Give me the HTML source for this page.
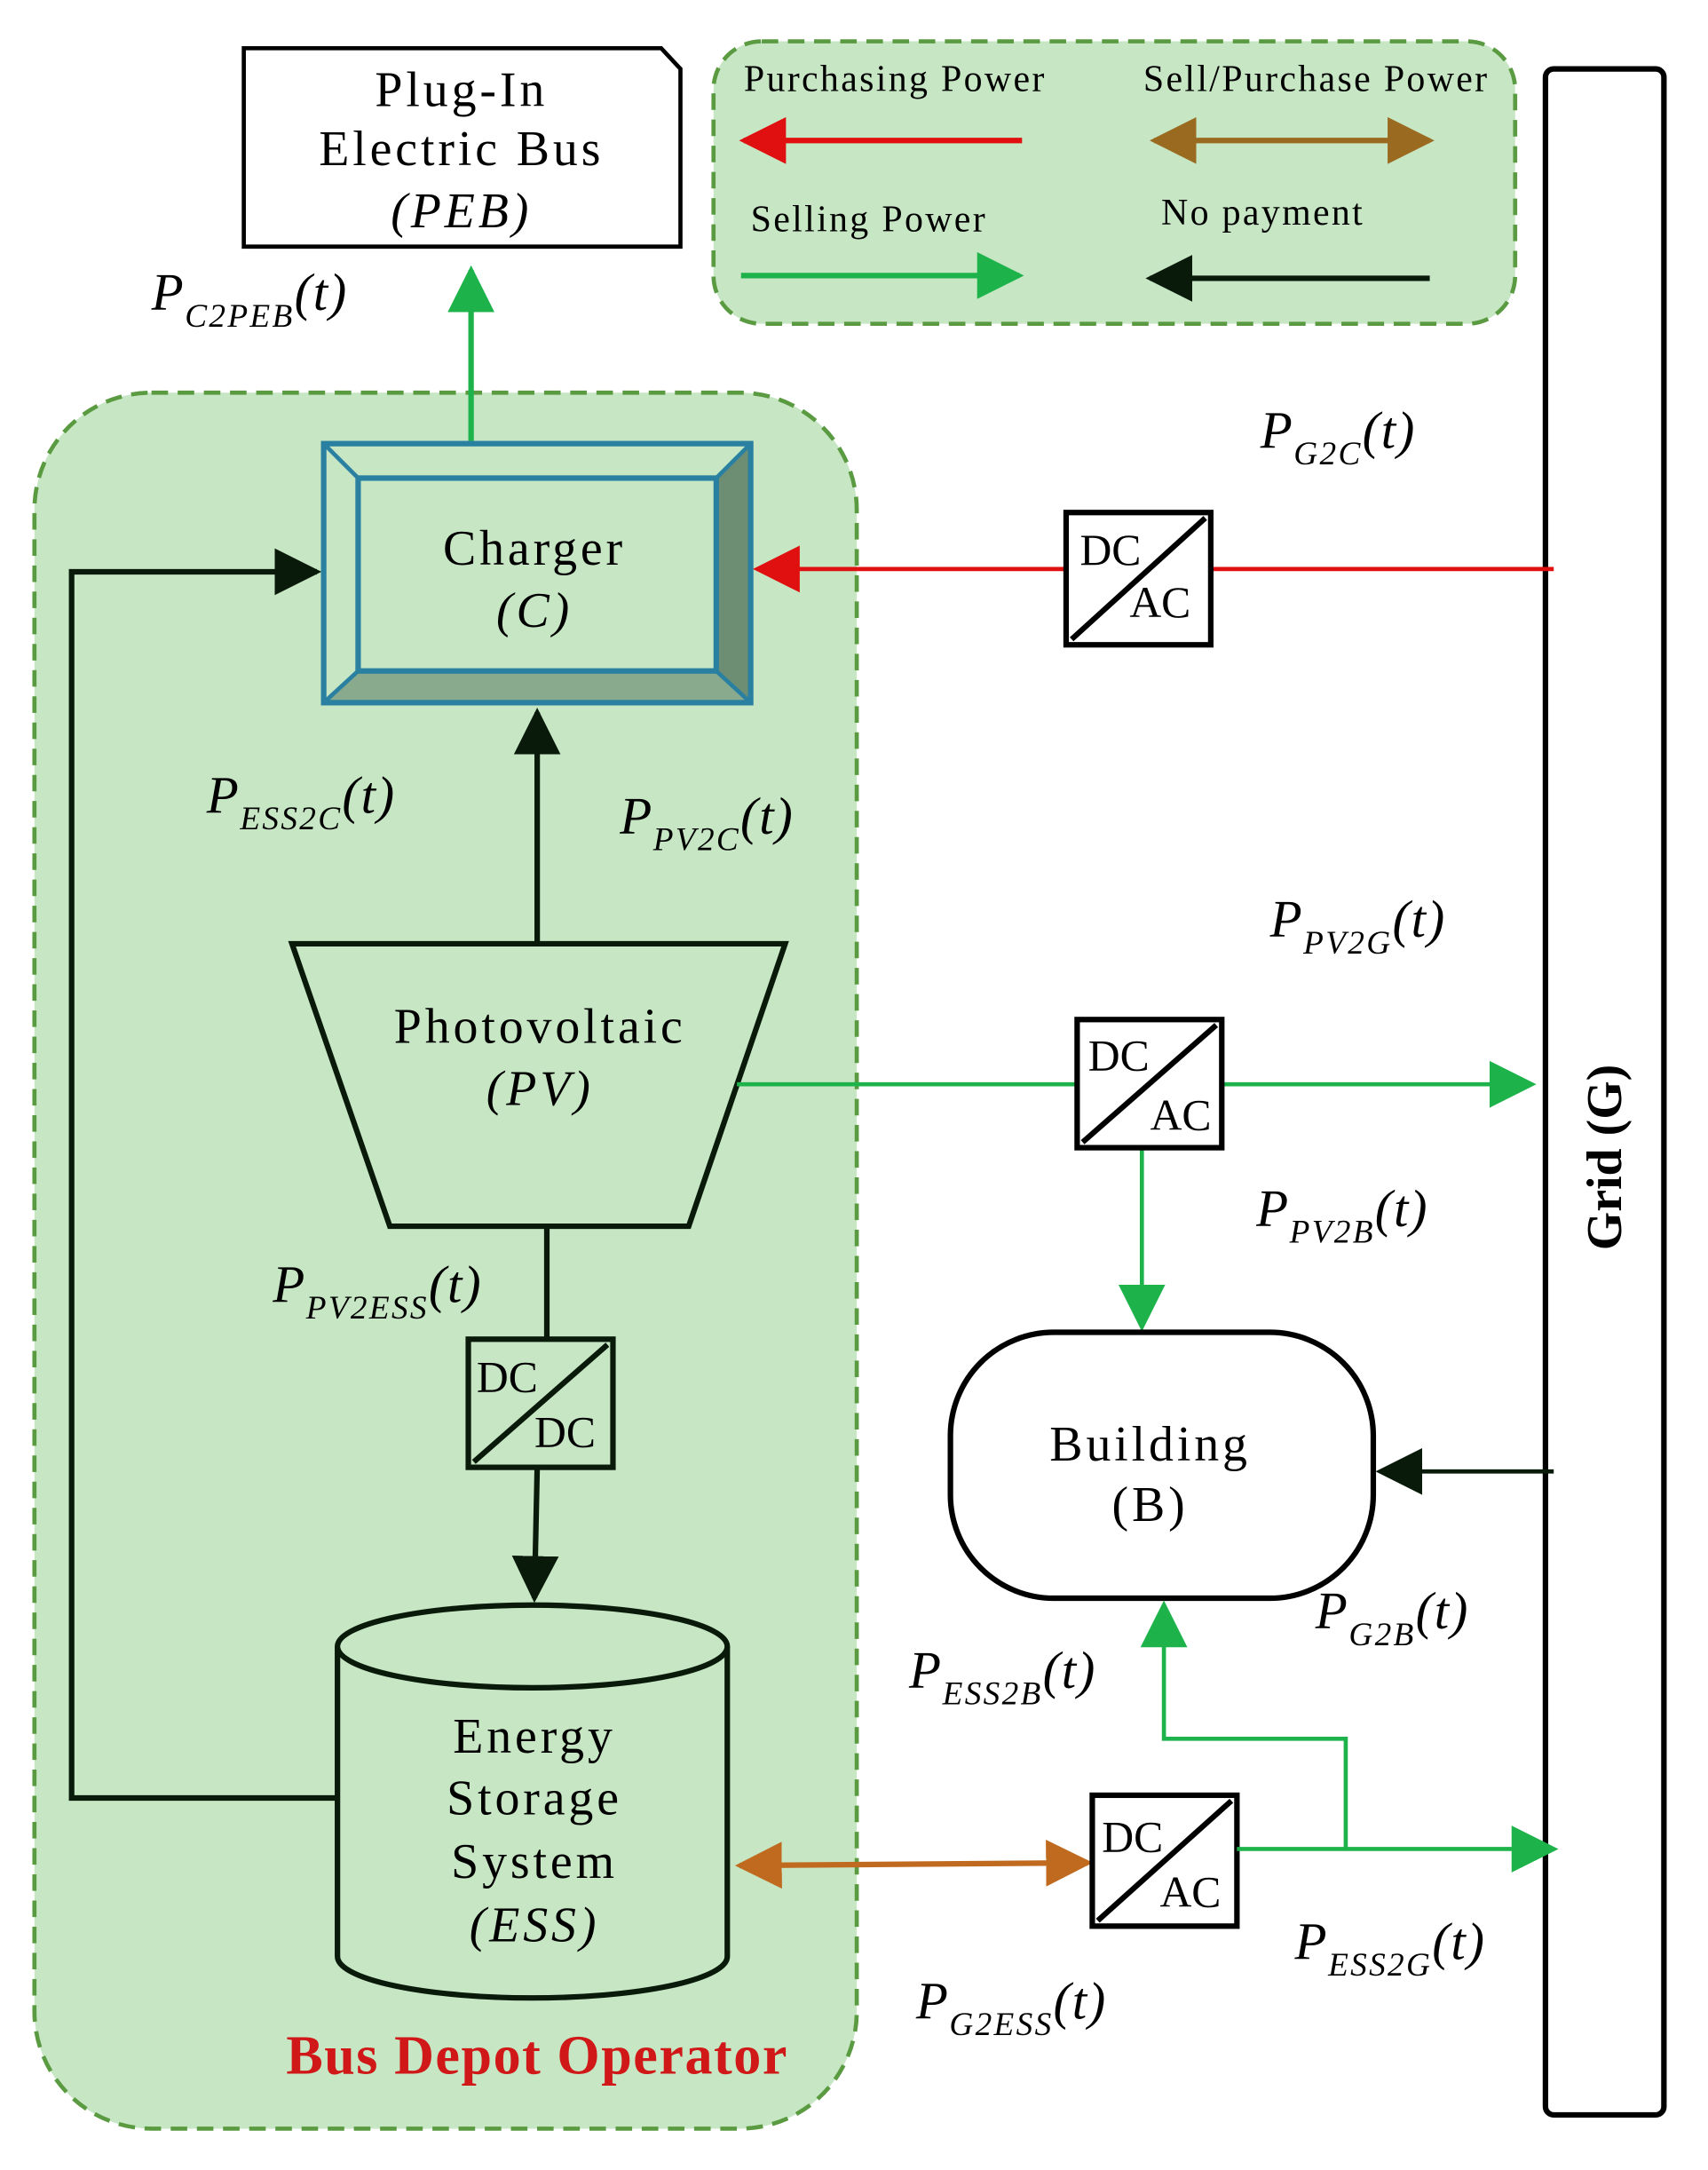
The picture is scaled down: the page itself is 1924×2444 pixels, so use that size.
<!DOCTYPE html>
<html><head><meta charset="utf-8"><style>
html,body{margin:0;padding:0;background:#fff;}
svg{display:block;}
text{font-family:"Liberation Serif",serif;}
.t{font-size:36px;text-anchor:middle;letter-spacing:2.5px;}
.lab{font-size:38px;font-style:italic;letter-spacing:1px;}
.sub{font-size:24px;font-style:italic;letter-spacing:1.5px;}
.leg{font-size:27px;letter-spacing:1.5px;}
</style></head><body>
<svg width="1924" height="2444" viewBox="0 0 1240 1575" preserveAspectRatio="none" xmlns="http://www.w3.org/2000/svg">
<defs>
<marker id="ar" viewBox="0 0 10 10" refX="9" refY="5" orient="auto" markerWidth="34" markerHeight="34" markerUnits="userSpaceOnUse"><path d="M0,0 L10,5 L0,10z" fill="#e01010"/></marker>
<marker id="ab" viewBox="0 0 10 10" refX="9" refY="5" orient="auto" markerWidth="34" markerHeight="34" markerUnits="userSpaceOnUse"><path d="M0,0 L10,5 L0,10z" fill="#0a1a0a"/></marker>
<marker id="ag2" viewBox="0 0 10 10" refX="9" refY="5" orient="auto" markerWidth="34" markerHeight="34" markerUnits="userSpaceOnUse"><path d="M0,0 L10,5 L0,10z" fill="#1db34a"/></marker>
<marker id="ao" viewBox="0 0 10 10" refX="9" refY="5" orient="auto-start-reverse" markerWidth="34" markerHeight="34" markerUnits="userSpaceOnUse"><path d="M0,0 L10,5 L0,10z" fill="#c06a20"/></marker>
<marker id="abr" viewBox="0 0 10 10" refX="9" refY="5" orient="auto-start-reverse" markerWidth="34" markerHeight="34" markerUnits="userSpaceOnUse"><path d="M0,0 L10,5 L0,10z" fill="#9a6a20"/></marker>
</defs>
<rect width="1240" height="1575" fill="#fff"/>
<rect x="25" y="285" width="597" height="1260" rx="85" fill="#c6e6c4" stroke="#5a9a40" stroke-width="3" stroke-dasharray="12,7"/>
<rect x="518" y="30" width="582" height="205" rx="35" fill="#c6e6c4" stroke="#5a9a40" stroke-width="3" stroke-dasharray="12,7"/>
<text class="leg" x="540" y="66">Purchasing Power</text>
<line x1="742" y1="102" x2="540" y2="102" stroke="#e01010" stroke-width="4" marker-end="url(#ar)"/>
<text class="leg" x="830" y="66">Sell/Purchase Power</text>
<line x1="838" y1="102" x2="1038" y2="102" stroke="#9a6a20" stroke-width="4" marker-start="url(#abr)" marker-end="url(#abr)"/>
<text class="leg" x="545" y="168">Selling Power</text>
<line x1="538" y1="200" x2="740" y2="200" stroke="#1db34a" stroke-width="4" marker-end="url(#ag2)"/>
<text class="leg" x="843" y="163">No payment</text>
<line x1="1038" y1="202" x2="835" y2="202" stroke="#0a1a0a" stroke-width="4" marker-end="url(#ab)"/>
<path d="M177,35 L480,35 L494,50 L494,179 L177,179z" fill="#fff" stroke="#000" stroke-width="3"/>
<text class="t" x="335" y="77">Plug-In</text>
<text class="t" x="335" y="120">Electric Bus</text>
<text class="t" x="335" y="165" font-style="italic">(PEB)</text>
<rect x="1122" y="50" width="86" height="1485" rx="6" fill="#fff" stroke="#000" stroke-width="4"/>
<text x="1165" y="840" font-size="36" font-weight="bold" text-anchor="middle" transform="rotate(-90 1165 840)" dy="12">Grid (G)</text>
<rect x="235" y="322" width="310" height="188" fill="#c6e6c4"/>
<polygon points="520,347 545,322 545,510 520,487" fill="#6e8e74"/>
<polygon points="260,487 520,487 545,510 235,510" fill="#8aaa8e"/>
<rect x="235" y="322" width="310" height="188" fill="none" stroke="#2a80a0" stroke-width="4"/>
<rect x="260" y="347" width="260" height="140" fill="none" stroke="#2a80a0" stroke-width="4"/>
<line x1="235" y1="322" x2="260" y2="347" stroke="#2a80a0" stroke-width="3"/>
<line x1="545" y1="322" x2="520" y2="347" stroke="#2a80a0" stroke-width="3"/>
<line x1="235" y1="510" x2="260" y2="487" stroke="#2a80a0" stroke-width="3"/>
<line x1="545" y1="510" x2="520" y2="487" stroke="#2a80a0" stroke-width="3"/>
<text class="t" x="388" y="410">Charger</text>
<text class="t" x="388" y="455" font-style="italic">(C)</text>
<line x1="342" y1="320" x2="342" y2="196" stroke="#1db34a" stroke-width="4" marker-end="url(#ag2)"/>
<text class="lab" x="110" y="225">P<tspan class="sub" dy="12">C2PEB</tspan><tspan dy="-12">(t)</tspan></text>
<polyline points="245,1305 52,1305 52,415 230,415" fill="none" stroke="#0a1a0a" stroke-width="4" marker-end="url(#ab)"/>
<line x1="1128" y1="413" x2="880" y2="413" stroke="#e01010" stroke-width="3"/>
<line x1="774" y1="413" x2="550" y2="413" stroke="#e01010" stroke-width="3" marker-end="url(#ar)"/>
<g><rect x="774" y="372" width="105" height="96" fill="#fff" stroke="#000" stroke-width="4"/><line x1="778" y1="464" x2="875" y2="376" stroke="#000" stroke-width="4"/><text x="784" y="410" font-size="32">DC</text><text x="820" y="448" font-size="32">AC</text></g>
<text class="lab" x="915" y="325">P<tspan class="sub" dy="12">G2C</tspan><tspan dy="-12">(t)</tspan></text>
<polygon points="212,685 570,685 500,890 283,890" fill="#c6e6c4" stroke="#0a1a0a" stroke-width="4"/>
<text class="t" x="392" y="757">Photovoltaic</text>
<text class="t" x="392" y="802" font-style="italic">(PV)</text>
<line x1="390" y1="685" x2="390" y2="517" stroke="#0a1a0a" stroke-width="4" marker-end="url(#ab)"/>
<text class="lab" x="150" y="590">P<tspan class="sub" dy="12">ESS2C</tspan><tspan dy="-12">(t)</tspan></text>
<text class="lab" x="450" y="605">P<tspan class="sub" dy="12">PV2C</tspan><tspan dy="-12">(t)</tspan></text>
<line x1="535" y1="787" x2="782" y2="787" stroke="#1db34a" stroke-width="3"/>
<line x1="887" y1="787" x2="1112" y2="787" stroke="#1db34a" stroke-width="3" marker-end="url(#ag2)"/>
<line x1="829" y1="833" x2="829" y2="963" stroke="#1db34a" stroke-width="3" marker-end="url(#ag2)"/>
<g><rect x="782" y="740" width="105" height="93" fill="#fff" stroke="#000" stroke-width="4"/><line x1="786" y1="829" x2="883" y2="744" stroke="#000" stroke-width="4"/><text x="790" y="777" font-size="32">DC</text><text x="835" y="820" font-size="32">AC</text></g>
<text class="lab" x="922" y="680">P<tspan class="sub" dy="12">PV2G</tspan><tspan dy="-12">(t)</tspan></text>
<text class="lab" x="912" y="890">P<tspan class="sub" dy="12">PV2B</tspan><tspan dy="-12">(t)</tspan></text>
<line x1="397" y1="890" x2="397" y2="972" stroke="#0a1a0a" stroke-width="4"/>
<g><rect x="340" y="972" width="105" height="93" fill="#c6e6c4" stroke="#0a1a0a" stroke-width="4"/><line x1="344" y1="1061" x2="441" y2="976" stroke="#0a1a0a" stroke-width="4"/><text x="346" y="1010" font-size="32">DC</text><text x="388" y="1050" font-size="32">DC</text></g>
<line x1="390" y1="1065" x2="388" y2="1160" stroke="#0a1a0a" stroke-width="4" marker-end="url(#ab)"/>
<text class="lab" x="198" y="945">P<tspan class="sub" dy="12">PV2ESS</tspan><tspan dy="-12">(t)</tspan></text>
<path d="M245,1195 L245,1420 A141,30 0 0 0 528,1420 L528,1195" fill="#c6e6c4" stroke="#0a1a0a" stroke-width="4"/>
<ellipse cx="386.5" cy="1195" rx="141.5" ry="30" fill="#c6e6c4" stroke="#0a1a0a" stroke-width="4"/>
<text class="t" x="388" y="1272">Energy</text>
<text class="t" x="388" y="1317">Storage</text>
<text class="t" x="388" y="1363">System</text>
<text class="t" x="388" y="1409" font-style="italic">(ESS)</text>
<rect x="690" y="967" width="307" height="193" rx="75" fill="#fff" stroke="#000" stroke-width="4"/>
<text class="t" x="835" y="1060">Building</text>
<text class="t" x="835" y="1104">(B)</text>
<line x1="1128" y1="1068" x2="1002" y2="1068" stroke="#0a1a0a" stroke-width="3" marker-end="url(#ab)"/>
<text class="lab" x="955" y="1182">P<tspan class="sub" dy="12">G2B</tspan><tspan dy="-12">(t)</tspan></text>
<line x1="537" y1="1354" x2="790" y2="1352" stroke="#c06a20" stroke-width="4" marker-start="url(#ao)" marker-end="url(#ao)"/>
<g><rect x="793" y="1303" width="105" height="95" fill="#fff" stroke="#000" stroke-width="4"/><line x1="797" y1="1394" x2="894" y2="1307" stroke="#000" stroke-width="4"/><text x="800" y="1344" font-size="32">DC</text><text x="842" y="1384" font-size="32">AC</text></g>
<line x1="898" y1="1342" x2="1128" y2="1342" stroke="#1db34a" stroke-width="3" marker-end="url(#ag2)"/>
<polyline points="977,1342 977,1262 845,1262 845,1165" fill="none" stroke="#1db34a" stroke-width="3" marker-end="url(#ag2)"/>
<text class="lab" x="660" y="1225">P<tspan class="sub" dy="12">ESS2B</tspan><tspan dy="-12">(t)</tspan></text>
<text class="lab" x="940" y="1422">P<tspan class="sub" dy="12">ESS2G</tspan><tspan dy="-12">(t)</tspan></text>
<text class="lab" x="665" y="1465">P<tspan class="sub" dy="12">G2ESS</tspan><tspan dy="-12">(t)</tspan></text>
<text x="390" y="1505" font-size="40" font-weight="bold" fill="#d01818" text-anchor="middle" letter-spacing="1">Bus Depot Operator</text>
</svg>
</body></html>
